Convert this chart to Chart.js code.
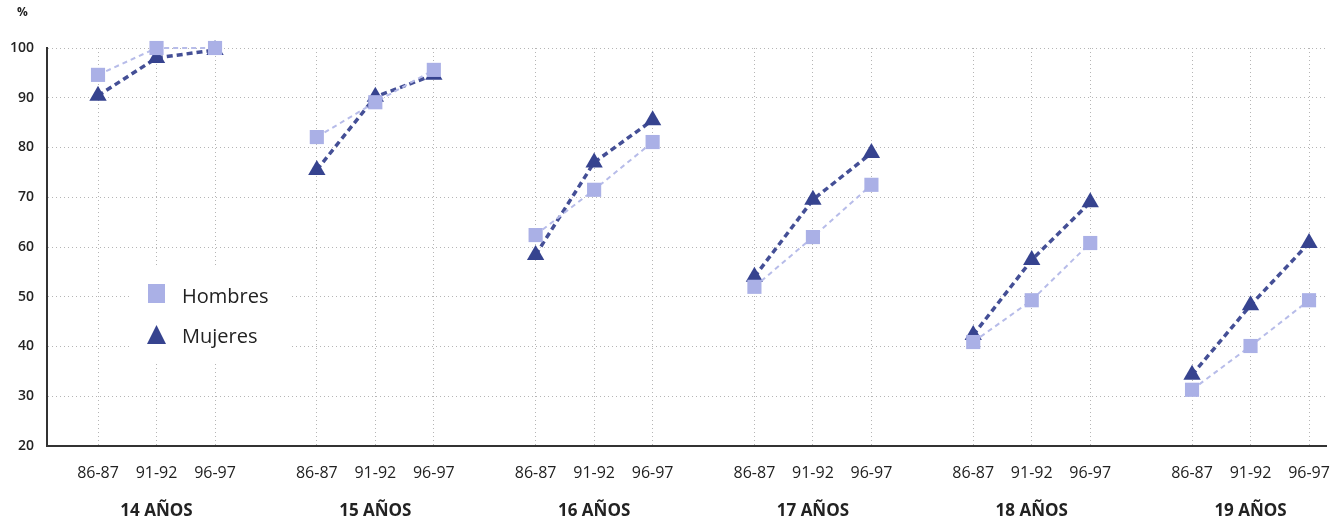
<!DOCTYPE html>
<html>
<head>
<meta charset="utf-8">
<script src="https://cdn.jsdelivr.net/npm/chart.js@4.4.0/dist/chart.umd.min.js"></script>
<style>
  html, body { margin: 0; background: #fff; }
  #wrap { width: 1336px; height: 525px; position: relative; }
</style>
</head>
<body>
<div id="wrap"><canvas id="chart"></canvas></div>
<script>
// datos del gráfico
const groups = ['14 AÑOS', '15 AÑOS', '16 AÑOS', '17 AÑOS', '18 AÑOS', '19 AÑOS'];
const periods = ['86-87', '91-92', '96-97'];
const hombres = [94.6, 100, 100,  82.1, 89.1, 95.6,  62.4, 71.5, 81.1,  52, 62, 72.5,  40.9, 49.3, 60.8,  31.3, 40.1, 49.3];
const mujeres = [90.4, 98, 99.6,  75.5, 90.2, 94.6,  58.4, 77, 85.5,  54, 69.5, 78.9,  42.3, 57.4, 69,  34.3, 48.3, 60.8];
const yTicks = [20, 30, 40, 50, 60, 70, 80, 90, 100];

// posición en el eje x: 3 periodos por grupo + hueco entre grupos
const GROUP_STEP = 3.74;
const xPos = i => Math.floor(i / 3) * GROUP_STEP + (i % 3);

function toPoints(values) {
    const pts = [];
    values.forEach((v, i) => {
        pts.push({ x: xPos(i), y: v });
        // romper la línea entre grupos
        if (i % 3 === 2 && i < values.length - 1) pts.push({ x: xPos(i) + 0.8, y: null });
    });
    return pts;
}

const FONT = "'Open Sans', 'DejaVu Sans', sans-serif";
const COLORS = {
    hombres: '#aab0e6', hombresLine: '#b7bce9',
    mujeres: '#36438f', mujeresLine: '#444f96'
};

// leyenda dentro del área, con fondo blanco
const insideLegend = {
    id: 'insideLegend',
    afterDatasetsDraw(chart) {
        const ctx = chart.ctx;
        ctx.save();
        ctx.fillStyle = '#fff';
        ctx.fillRect(130, 268, 160, 94);
        // cuadrado
        ctx.fillStyle = COLORS.hombres;
        ctx.fillRect(148, 284, 17, 19);
        // triángulo
        ctx.fillStyle = COLORS.mujeres;
        ctx.beginPath();
        ctx.moveTo(156.5, 325);
        ctx.lineTo(166, 344);
        ctx.lineTo(147, 344);
        ctx.closePath();
        ctx.fill();
        ctx.fillStyle = '#222';
        ctx.font = '20px ' + FONT;
        ctx.textBaseline = 'middle';
        ctx.fillText(chart.data.datasets[0].label, 182, 297);
        ctx.fillText(chart.data.datasets[1].label, 182, 337);
        // unidad del eje
        ctx.font = 'bold 12px ' + FONT;
        ctx.fillText('%', 17, 13);
        ctx.restore();
    }
};

const xMin = -0.872;
const xMax = 20.99;

new Chart(document.getElementById('chart'), {
    type: 'line',
    data: {
        datasets: [
            {
                label: 'Hombres',
                data: toPoints(hombres),
                borderColor: COLORS.hombresLine,
                backgroundColor: COLORS.hombres,
                borderWidth: 2,
                borderDash: [5, 4],
                pointStyle: 'rect',
                pointRadius: 10,
                pointBorderWidth: 0,
                spanGaps: false,
                clip: false,
                xAxisID: 'x'
            },
            {
                label: 'Mujeres',
                data: toPoints(mujeres),
                borderColor: COLORS.mujeresLine,
                backgroundColor: COLORS.mujeres,
                borderWidth: 3.5,
                borderDash: [6, 4],
                pointStyle: 'triangle',
                pointRadius: 10,
                pointBorderWidth: 0,
                spanGaps: false,
                clip: false,
                xAxisID: 'x'
            }
        ]
    },
    options: {
        responsive: true,
        maintainAspectRatio: false,
        animation: false,
        layout: { padding: { top: 48, left: 0, right: 0, bottom: 0 } },
        plugins: {
            legend: { display: false },
            tooltip: { enabled: false }
        },
        scales: {
            x: {
                type: 'linear',
                min: xMin,
                max: xMax,
                weight: 0,
                afterBuildTicks(scale) {
                    scale.ticks = hombres.map((_, i) => ({ value: xPos(i) }));
                },
                afterFit(scale) {
                    scale.height = 45;
                    scale.paddingRight = 0;
                    scale.paddingLeft = 0;
                },
                ticks: {
                    autoSkip: false,
                    maxRotation: 0,
                    padding: 18,
                    color: '#222',
                    font: { family: FONT, size: 16 },
                    callback: (v, i) => periods[i % 3]
                },
                grid: { color: '#b5b5b5', lineWidth: 1, drawTicks: false },
                border: { display: true, color: '#333', width: 2, dash: [1, 3] }
            },
            xg: {
                type: 'linear',
                position: 'bottom',
                min: xMin,
                max: xMax,
                weight: 1,
                afterBuildTicks(scale) {
                    scale.ticks = groups.map((_, g) => ({ value: g * GROUP_STEP + 1 }));
                },
                afterFit(scale) {
                    scale.height = 34;
                    scale.paddingRight = 0;
                    scale.paddingLeft = 0;
                },
                ticks: {
                    autoSkip: false,
                    maxRotation: 0,
                    padding: 10,
                    color: '#222',
                    font: { family: FONT, size: 17, weight: 'bold' },
                    callback: (v, i) => groups[i]
                },
                grid: { display: false, drawTicks: false },
                border: { display: false }
            },
            y: {
                type: 'linear',
                min: 20,
                max: 100,
                afterBuildTicks(scale) {
                    scale.ticks = yTicks.map(v => ({ value: v }));
                },
                afterFit(scale) { scale.width = 47; },
                ticks: {
                    padding: 13,
                    color: '#222',
                    font: { family: FONT, size: 14, weight: '600' }
                },
                grid: { color: '#b5b5b5', lineWidth: 1, drawTicks: false },
                border: { display: true, color: '#333', width: 2, dash: [1, 3] }
            }
        }
    },
    plugins: [insideLegend]
});
</script>
</body>
</html>
